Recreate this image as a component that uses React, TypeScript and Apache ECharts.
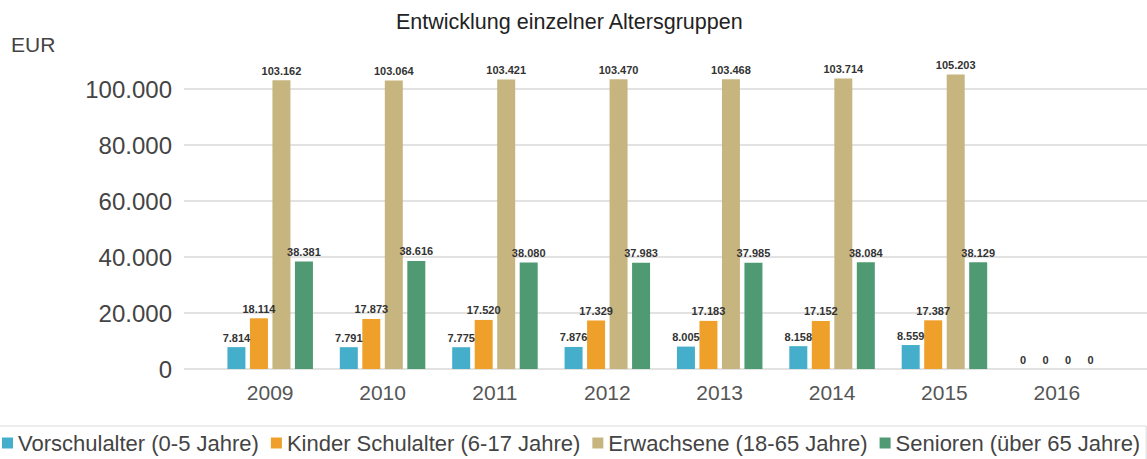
import React, { useEffect, useRef } from "react";
import * as echarts from "echarts";

const years = ["2009", "2010", "2011", "2012", "2013", "2014", "2015", "2016"];
const seriesNames = [
  "Vorschulalter (0-5 Jahre)",
  "Kinder Schulalter (6-17 Jahre)",
  "Erwachsene (18-65 Jahre)",
  "Senioren (über 65 Jahre)",
];
const vorschul = [7814, 7791, 7775, 7876, 8005, 8158, 8559, 0];
const kinder = [18114, 17873, 17520, 17329, 17183, 17152, 17387, 0];
const erwachsene = [103162, 103064, 103421, 103470, 103468, 103714, 105203, 0];
const senioren = [38381, 38616, 38080, 37983, 37985, 38084, 38129, 0];
const yTicks = [0, 20000, 40000, 60000, 80000, 100000];

const colors = ["#45AECB", "#EFA02A", "#C7B57F", "#4F9A72"];

function fmt(v: number): string {
  const s = Math.round(v).toString();
  return s.replace(/\B(?=(\d{3})+(?!\d))/g, ".");
}

export default function App() {
  const ref = useRef<HTMLDivElement>(null);
  useEffect(() => {
    document.body.style.margin = "0";
    if (!ref.current) return;
    const chart = echarts.init(ref.current, undefined, { renderer: "svg" });
    const font = "'Liberation Sans', Arial, sans-serif";
    const data = [vorschul, kinder, erwachsene, senioren];
    chart.setOption({
      animation: false,
      textStyle: { fontFamily: font },
      title: {
        text: "Entwicklung einzelner Altersgruppen",
        left: 396,
        top: 11,
        padding: 0,
        textStyle: { fontSize: 21.5, fontWeight: "normal", color: "#222", fontFamily: font },
      },
      graphic: [
        {
          type: "text",
          left: 11,
          top: 34,
          style: { text: "EUR", fontSize: 21, fill: "#444", fontFamily: font },
        },
      ],
      legend: {
        data: seriesNames,
        left: -4,
        top: 426,
        padding: [6, 6, 20, 6],
        itemWidth: 11,
        itemHeight: 11,
        itemGap: 12,
        icon: "rect",
        borderColor: "#d9d9d9",
        borderWidth: 1,
        textStyle: { fontSize: 22, color: "#444", fontFamily: font },
      },
      grid: [
        { left: 184, right: 0, top: 89, bottom: 90 },
        { left: 214, right: 34, top: 89, bottom: 90 },
      ],
      xAxis: [
        { gridIndex: 0, type: "category", data: [""], show: false },
        {
          gridIndex: 1,
          type: "category",
          data: years,
          axisLine: { show: false },
          axisTick: { show: false },
          axisLabel: { fontSize: 21, color: "#555", margin: 13, fontFamily: font },
        },
      ],
      yAxis: [
        {
          gridIndex: 0,
          type: "value",
          min: yTicks[0],
          max: yTicks[yTicks.length - 1],
          interval: 20000,
          axisLine: { show: false },
          axisTick: { show: false },
          axisLabel: {
            fontSize: 24,
            color: "#444",
            margin: 12,
            fontFamily: font,
            formatter: (v: number) => fmt(v),
          },
          splitLine: { lineStyle: { color: "#d9d9d9", width: 1.5 } },
        },
        {
          gridIndex: 1,
          type: "value",
          min: yTicks[0],
          max: yTicks[yTicks.length - 1],
          interval: 20000,
          show: false,
        },
      ],
      series: seriesNames.map((name, i) => ({
        name,
        type: "bar",
        xAxisIndex: 1,
        yAxisIndex: 1,
        data: data[i],
        barWidth: 18,
        barGap: "25%",
        clip: false,
        itemStyle: { color: colors[i] },
        label: {
          show: true,
          position: "top",
          distance: 4,
          fontSize: 11,
          fontWeight: "bold",
          color: "#333",
          fontFamily: font,
          formatter: (p: any) => fmt(p.value),
        },
      })),
    });
    return () => chart.dispose();
  }, []);
  return <div ref={ref} style={{ width: 1147, height: 459 }} />;
}
